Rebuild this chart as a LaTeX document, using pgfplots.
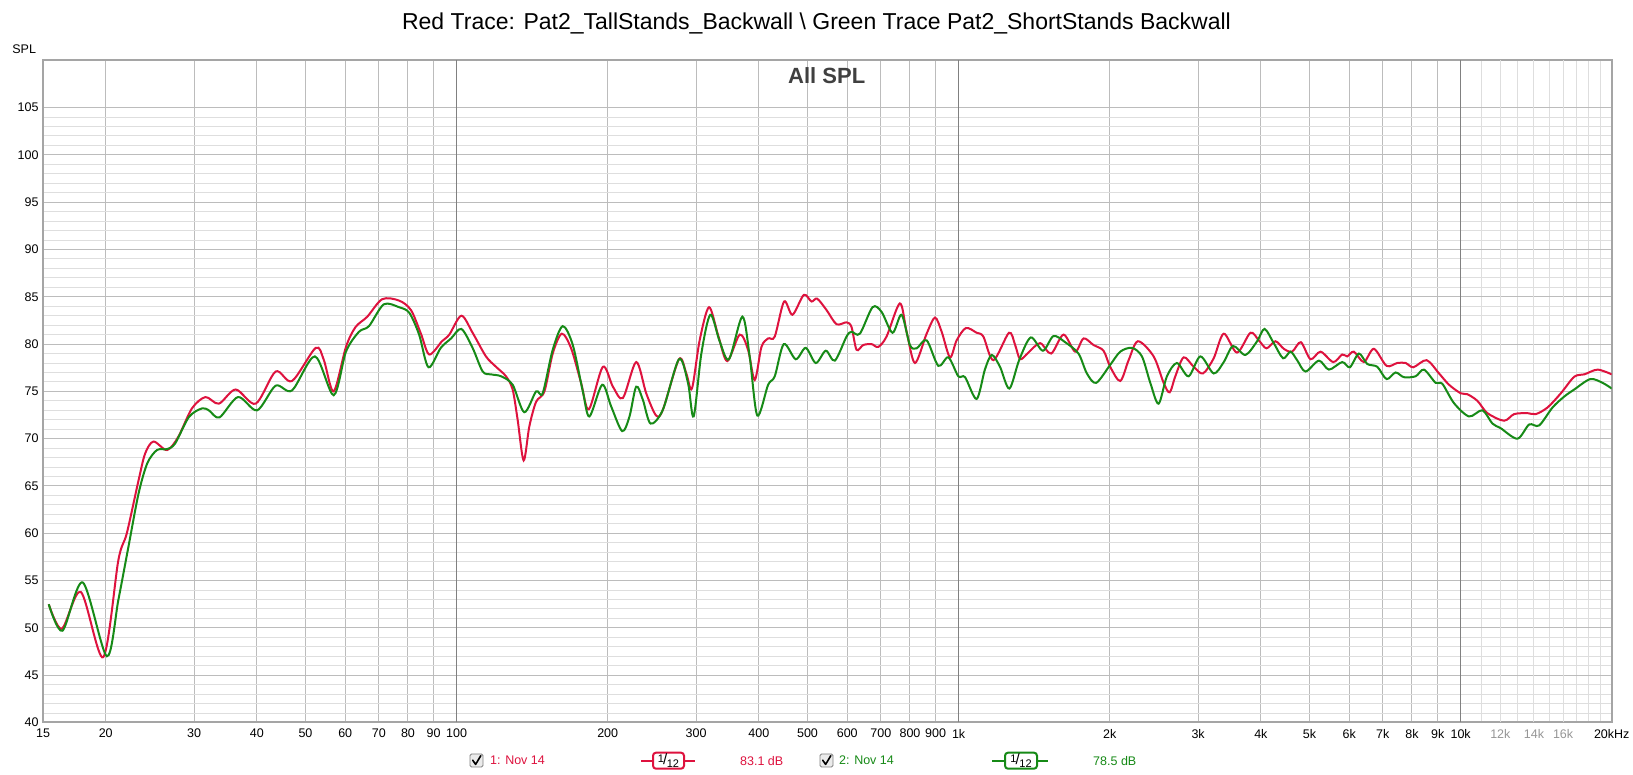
\documentclass[border=0pt]{standalone}
\usepackage{fontspec}
\setmainfont{Liberation Sans}
\usepackage{pgfplots}
\pgfplotsset{compat=1.18}
\usepackage{pgfplotstable}
\definecolor{redtr}{RGB}{222,18,62}
\definecolor{greentr}{RGB}{22,138,22}
\definecolor{majgrid}{RGB}{188,188,188}
\definecolor{mingrid}{RGB}{222,222,222}
\definecolor{decgrid}{RGB}{128,128,128}
\definecolor{framegray}{RGB}{165,165,165}
\definecolor{lblgray}{RGB}{150,150,150}
\definecolor{allspl}{RGB}{64,64,64}
\newcommand\tickfont{\fontsize{12.5}{14}\selectfont}

\pgfplotstableread{
f db
15.4 52.5
16.35 49.9
17.84 53.8
19.77 46.9
21.2 57.2
22.03 60.0
23.25 65.6
23.97 68.45
24.9 69.7
26.5 68.8
27.9 70.2
29.7 73.2
31.6 74.4
33.6 73.7
36.3 75.2
39.8 73.7
43.6 77.1
47.0 76.1
52.4 79.6
54.4 78.3
56.9 75.0
60.2 79.7
62.9 81.8
66.4 82.9
71.1 84.75
76.8 84.6
81.1 83.6
84.9 81.1
88.2 78.9
93.5 80.3
96.7 81.0
102.2 83.0
107.6 81.2
114.4 78.7
119.8 77.6
125.4 76.6
129.3 75.2
132.3 72.0
136.0 67.7
139.6 71.3
144.0 73.9
149.6 75.0
155.4 79.0
162.0 81.1
169.1 79.55
177.0 75.9
183.4 73.1
195.6 77.6
204.8 75.5
214.4 74.3
227.9 78.1
238.6 74.8
249.7 72.45
257.5 73.05
277.3 78.4
286.8 76.9
294.3 75.3
304.9 80.4
318.3 83.9
332.0 80.9
346.0 78.2
366.4 81.0
380.7 79.4
392.6 76.2
404.8 79.7
417.4 80.6
430.3 80.8
449.1 84.5
466.7 83.1
491.6 85.2
509.2 84.5
522.7 84.8
545.6 83.6
571.2 82.1
598.1 82.3
611.9 81.8
626.2 79.4
645.6 79.9
670.8 80.0
691.6 79.7
718.6 80.8
764.0 84.3
787.8 81.3
818.5 78.0
863.6 81.1
897.3 82.8
925.2 81.3
961.2 78.6
991.1 80.4
1034 81.7
1086 81.2
1120 80.8
1173 78.3
1260 81.2
1296 79.9
1326 78.4
1377 79.1
1453 80.1
1529 79.0
1618 81.0
1707 79.2
1774 80.6
1857 79.9
1944 79.3
2004 77.6
2099 76.1
2181 78.3
2276 80.3
2446 78.7
2561 75.9
2633 74.9
2702 76.6
2807 78.6
2939 77.6
3068 76.9
3222 78.5
3374 81.1
3586 79.1
3814 81.2
3962 80.4
4105 79.55
4277 80.3
4444 79.5
4617 79.2
4805 80.2
5023 78.4
5260 79.2
5575 78.1
5809 78.9
5944 78.7
6129 79.2
6416 78.1
6718 79.5
7120 77.7
7478 78.0
7771 78.0
8050 77.55
8557 78.3
9057 76.9
9483 75.7
10004 74.8
10316 74.7
10800 74.0
11310 72.7
12200 71.9
12785 72.6
13592 72.7
14117 72.6
14900 73.3
15837 74.8
16839 76.55
17636 76.8
18745 77.3
20000 76.8
}\redtable

\pgfplotstableread{
f db
15.4 52.5
16.4 49.7
18.0 54.8
20.1 47.0
21.2 53.0
22.2 58.6
23.25 64.2
24.2 67.4
25.3 68.8
26.5 68.9
27.5 69.5
29.3 72.3
31.1 73.2
32.1 73.0
33.7 72.25
36.7 74.4
40.05 73.0
43.6 75.6
47.0 75.1
52.2 78.7
56.9 74.6
60.2 79.2
63.9 81.3
66.9 81.9
71.6 84.2
76.8 83.9
80.5 83.3
84.2 81.0
87.9 77.55
93.0 79.6
97.5 80.6
102.2 81.6
107.6 79.6
112.7 77.1
117.1 76.8
122.6 76.6
129.3 75.7
136.4 72.8
144.0 75.0
148.4 74.8
155.4 79.4
162.7 81.9
170.4 79.9
178.4 75.0
183.9 72.35
195.0 75.7
203.2 73.4
213.7 70.8
221.0 72.35
227.9 75.5
235.0 74.1
243.4 71.6
257.5 73.05
277.3 78.4
289.0 75.9
296.6 72.35
307.3 79.0
320.2 83.1
334.2 80.3
348.8 78.4
370.9 82.9
383.6 78.7
397.2 72.45
417.4 75.7
430.3 76.6
448.5 80.0
473.8 78.4
496.0 79.6
519.4 78.0
543.8 79.3
566.8 78.25
598.1 80.8
611.9 81.3
635.8 81.1
673.9 83.9
702.4 83.4
738.6 81.2
770.0 83.1
799.8 79.9
824.9 79.55
863.6 80.4
911.1 77.7
954.0 78.6
998.6 76.6
1030 76.5
1086 74.2
1128 77.3
1164 78.85
1209 77.6
1262 75.3
1320 78.3
1392 80.7
1472 79.3
1545 80.85
1630 80.2
1733 79.0
1801 76.9
1879 75.9
2004 77.8
2099 79.2
2214 79.6
2318 78.7
2409 75.9
2502 73.7
2600 76.6
2722 78.0
2872 76.6
3031 78.7
3222 76.9
3374 78.1
3521 79.8
3727 78.85
3932 80.3
4068 81.6
4244 80.1
4430 78.5
4582 79.2
4724 78.3
4909 77.1
5220 78.25
5466 77.3
5809 78.1
6017 77.55
6271 79.0
6516 77.9
6823 77.6
7120 76.3
7421 77.0
7711 76.5
8137 76.6
8453 77.3
8919 75.9
9196 75.8
9703 73.75
10394 72.35
11050 73.0
11570 71.6
12023 71.1
12977 70.0
13693 71.5
14335 71.4
15247 73.3
16081 74.45
16839 75.2
18125 76.3
19181 75.9
20000 75.3
}\greentable

\begin{document}
\begin{tikzpicture}[x=1pt,y=1pt]
\path[use as bounding box, fill=white] (0,0) rectangle (1633,775);
\begin{axis}[
  at={(43pt,52.5pt)}, anchor=south west,
  scale only axis, width=1568.7pt, height=662.2pt,
  xmode=log, xmin=15, xmax=20000, ymin=40, ymax=110,
  log basis x=10,
  xtick={15,20,30,40,50,60,70,80,90,100,200,300,400,500,600,700,800,900,1000,2000,3000,4000,5000,6000,7000,8000,9000,10000,20000},
  xticklabels={15,20,30,40,50,60,70,80,90,100,200,300,400,500,600,700,800,900,1k,2k,3k,4k,5k,6k,7k,8k,9k,10k,20kHz},
  minor xtick={11000,13000,15000,17000,18000,19000},
  extra x ticks={12000,14000,16000},
  extra x tick labels={12k,14k,16k},
  extra x tick style={grid=major, major grid style={color=mingrid, line width=1pt}, xticklabel style={text=lblgray}},
  ytick={40,45,...,105},
  minor y tick num=4,
  grid=both,
  major grid style={color=majgrid, line width=1pt},
  minor grid style={color=mingrid, line width=1pt},
  major tick length=0pt, minor tick length=0pt,
  axis line style={draw=framegray, line width=2pt},
  /pgf/number format/assume math mode=true,
  xticklabel style={font=\tickfont, yshift=-3pt},
  yticklabel style={font=\tickfont, xshift=-1pt},
  clip=true,
]
\foreach \d in {100,1000,10000} {
  \edef\tmp{\noexpand\draw[color=decgrid, line width=1pt] (axis cs:\d,40) -- (axis cs:\d,110);}
  \tmp
}
\addplot[color=redtr, line width=2pt, smooth, tension=0.5] table[x=f, y=db] {\redtable};
\addplot[color=greentr, line width=2pt, smooth, tension=0.5] table[x=f, y=db] {\greentable};
\end{axis}
% titles and labels
\node[font=\fontsize{23}{27}\selectfont] at (816.5,752) {Red Trace: Pat2\_TallStands\_Backwall \textbackslash{} Green Trace Pat2\_ShortStands Backwall};
\node[font=\tickfont, anchor=base east] at (39.5,721) {SPL};
\node[font=\bfseries\fontsize{22}{26}\selectfont, text=allspl] at (826.7,699.3) {All SPL};
% legend
\draw[draw=gray, fill=black!8, rounded corners=1.5pt, line width=0.8pt] (470,8) rectangle (483,21);
\draw[line width=1.6pt, line cap=round, line join=round] (472.7,14.8) -- (475.6,10.6) -- (480.8,19.3);
\node[font=\tickfont, text=redtr, anchor=west, inner sep=0pt] at (490,14.3) {1: Nov 14};
\draw[redtr, line width=2pt] (641,14.3) -- (695,14.3);
\draw[redtr, fill=white, line width=2pt, rounded corners=3pt] (653,6.3) rectangle (684,22.3);
\node[inner sep=0pt] at (668.5,14.3) {\fontsize{11}{11}\selectfont\raisebox{2.5pt}{1}\kern-0.8pt{\fontsize{15}{15}\selectfont/}\kern-0.5pt\raisebox{-3pt}{12}};
\node[font=\tickfont, text=redtr, anchor=west, inner sep=0pt] at (740,14.3) {83.1 dB};
\draw[draw=gray, fill=black!8, rounded corners=1.5pt, line width=0.8pt] (820,8) rectangle (833,21);
\draw[line width=1.6pt, line cap=round, line join=round] (822.7,14.8) -- (825.6,10.6) -- (830.8,19.3);
\node[font=\tickfont, text=greentr, anchor=west, inner sep=0pt] at (839,14.3) {2: Nov 14};
\draw[greentr, line width=2pt] (992,14.3) -- (1048,14.3);
\draw[greentr, fill=white, line width=2pt, rounded corners=3pt] (1005,6.3) rectangle (1037,22.3);
\node[inner sep=0pt] at (1021,14.3) {\fontsize{11}{11}\selectfont\raisebox{2.5pt}{1}\kern-0.8pt{\fontsize{15}{15}\selectfont/}\kern-0.5pt\raisebox{-3pt}{12}};
\node[font=\tickfont, text=greentr, anchor=west, inner sep=0pt] at (1093,14.3) {78.5 dB};
\end{tikzpicture}
\end{document}
